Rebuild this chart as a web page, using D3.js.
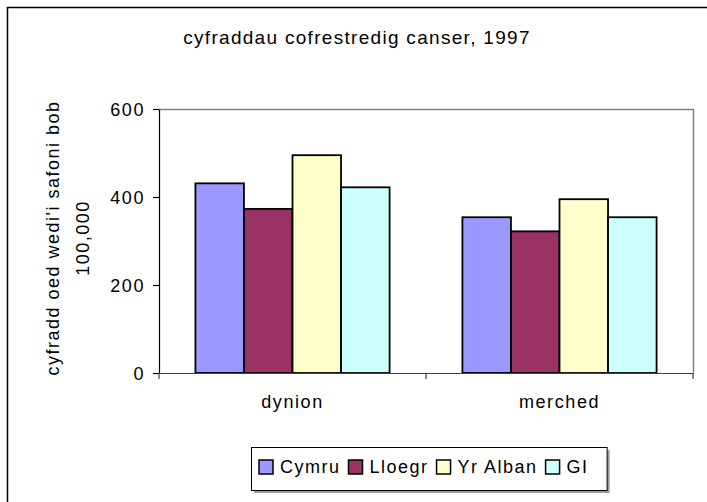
<html>
<head>
  <style>
    body { margin: 0; background: #fff; }
    svg text { font-family: "Liberation Sans", Arial, sans-serif; fill: #000; }
    svg .y-axis text, svg .x-axis text { font-size: 18px; letter-spacing: 1.6px; }
  </style>
</head>
<body>
  <div id="chart"></div>
  <script src="https://d3js.org/d3.v7.min.js"></script>
  <script>
// data
var categories = ["dynion", "merched"];
var series = ["Cymru", "Lloegr", "Yr Alban", "GI"];
var colours = ["#9999FF", "#993366", "#FFFFCC", "#CCFFFF"];
var cymru = [431, 354];
var lloegr = [373, 322];
var yrAlban = [495, 395];
var gi = [422, 354];
var yTicks = [0, 200, 400, 600];
var title = "cyfraddau cofrestredig canser, 1997";
var yTitle = ["cyfradd oed wedi'i safoni bob", "100,000"];

(function () {
  var values = [cymru, lloegr, yrAlban, gi];
  var W = 707, H = 502;
  var plot = { left: 159, right: 693, top: 109, bottom: 373 };

  var svg = d3.select("#chart")
    .append("svg")
      .attr("width", W)
      .attr("height", H);

  // chart area border (cropped at right / bottom in the reference)
  svg.append("rect")
      .attr("x", 7.5)
      .attr("y", 7.5)
      .attr("width", 900)
      .attr("height", 700)
      .style("fill", "#fff")
      .style("stroke", "#000")
      .style("stroke-width", "1.5px");

  // scales
  var x0 = d3.scaleBand().domain(categories).range([plot.left, plot.right]);
  var x1 = d3.scaleBand().domain(series)
      .range([0, x0.bandwidth()])
      .paddingInner(0)
      .paddingOuter(0.75);   // excel gap width 150%
  var y = d3.scaleLinear().domain([0, 600]).range([plot.bottom, plot.top]);

  // plot area frame (grey top / right)
  svg.append("path")
      .attr("d", "M" + plot.left + "," + (plot.top + 0.5) + "H" + (plot.right + 0.5) + "V" + plot.bottom)
      .style("fill", "none")
      .style("stroke", "#808080")
      .style("stroke-width", "1.5px");

  // bars
  var groups = svg.selectAll("g.series")
    .data(series)
    .enter().append("g")
      .classed("series", true)
      .style("fill", function (d, i) { return colours[i]; });

  groups.selectAll("rect")
    .data(function (d, i) {
      return categories.map(function (c, j) { return { s: d, c: c, v: values[i][j] }; });
    })
    .enter().append("rect")
      .attr("x", function (d) { return x0(d.c) + x1(d.s); })
      .attr("y", function (d) { return y(d.v); })
      .attr("width", x1.bandwidth())
      .attr("height", function (d) { return y(0) - y(d.v); })
      .style("stroke", "#000")
      .style("stroke-width", "1.8px");

  // y axis
  var yAxis = d3.axisLeft(y)
      .tickValues(yTicks)
      .tickSize(6)
      .tickSizeOuter(0)
      .tickPadding(8);

  var ya = svg.append("g")
      .classed("y-axis", true)
      .attr("transform", "translate(" + plot.left + ",0)")
      .call(yAxis);
  ya.selectAll("path, line").style("stroke", "#000").style("stroke-width", "1.2px");
  ya.selectAll("text").attr("dy", "0.36em");

  // x axis: labels at band centres, ticks between categories
  var xAxis = d3.axisBottom(x0)
      .tickSize(0)
      .tickPadding(22);

  var xa = svg.append("g")
      .classed("x-axis", true)
      .attr("transform", "translate(0," + plot.bottom + ")")
      .call(xAxis);
  xa.select(".domain").style("stroke", "#404040").style("stroke-width", "1.2px");

  var edges = categories.map(function (c) { return x0(c); }).concat([x0.range()[1]]);
  xa.selectAll("line.edge")
    .data(edges)
    .enter().append("line")
      .classed("edge", true)
      .attr("x1", function (d) { return d; })
      .attr("x2", function (d) { return d; })
      .attr("y1", 0)
      .attr("y2", 6)
      .style("stroke", "#404040")
      .style("stroke-width", "1.2px");

  // title
  svg.append("text")
      .attr("x", 357)
      .attr("y", 44)
      .text(title)
      .style("text-anchor", "middle")
      .style("font-size", "19px")
      .style("letter-spacing", "1.3px");

  // y axis title, two lines
  svg.selectAll("text.ytitle")
    .data(yTitle)
    .enter().append("text")
      .classed("ytitle", true)
      .attr("transform", function (d, i) {
        return "translate(" + (59 + i * 30) + "," + ((plot.top + plot.bottom) / 2 - 3) + ") rotate(-90)";
      })
      .text(function (d) { return d; })
      .style("text-anchor", "middle")
      .style("font-size", "18px")
      .style("letter-spacing", "1.5px");

  // legend
  var legend = svg.append("g").classed("legend", true);
  var lx = 259, ly = 460, sq = 14;
  var items = legend.selectAll("g.item")
    .data(series)
    .enter().append("g")
      .classed("item", true);

  items.append("rect")
      .attr("width", sq)
      .attr("height", sq)
      .style("fill", function (d, i) { return colours[i]; })
      .style("stroke", "#000")
      .style("stroke-width", "1.5px");

  items.append("text")
      .attr("x", sq + 7)
      .attr("y", sq - 1)
      .text(function (d) { return d; })
      .style("font-size", "18px")
      .style("letter-spacing", "1.5px");

  var cx = lx;
  items.each(function () {
    d3.select(this).attr("transform", "translate(" + cx + "," + ly + ")");
    var w = d3.select(this).select("text").node().getComputedTextLength();
    cx += sq + 7 + w + 8;
  });

  legend.insert("rect", ":first-child")
      .attr("x", 251.5)
      .attr("y", 447.5)
      .attr("width", cx - 251 + 10)
      .attr("height", 43)
      .style("fill", "#fff")
      .style("stroke", "#000")
      .style("stroke-width", "1px");
  legend.insert("rect", ":first-child")
      .attr("x", 254)
      .attr("y", 450)
      .attr("width", cx - 251 + 10)
      .attr("height", 43)
      .style("fill", "#999");
})();
  </script>
</body>
</html>
